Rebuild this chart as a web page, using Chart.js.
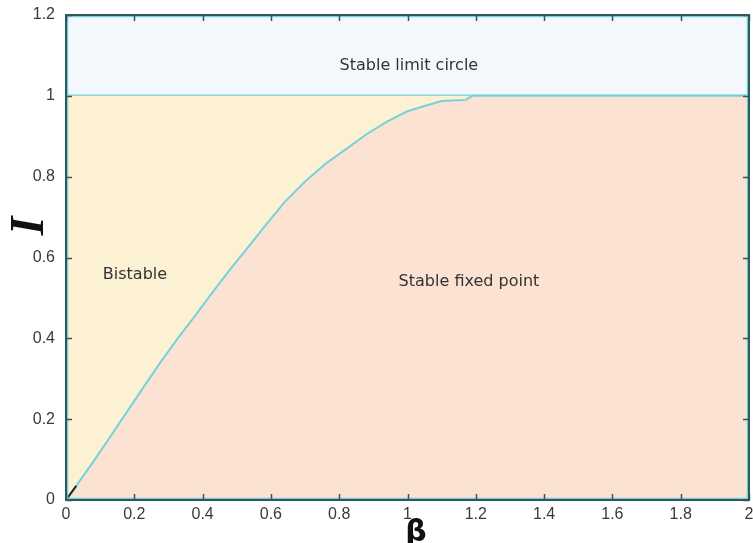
<!DOCTYPE html>
<html>
<head>
<meta charset="utf-8">
<script src="https://cdn.jsdelivr.net/npm/chart.js@4/dist/chart.umd.min.js"></script>
<style>
html,body{margin:0;padding:0;background:#fff;}
#wrap{width:753px;height:543px;}
</style>
</head>
<body>
<div id="wrap"><canvas id="c" width="753" height="543"></canvas></div>
<script>
// ---- data ----
const boundaryBeta = [0, 0.03, 0.08, 0.13, 0.18, 0.23, 0.28, 0.33, 0.38, 0.43, 0.48, 0.53, 0.58, 0.64, 0.70, 0.76, 0.82, 0.88, 0.94, 1.00, 1.05, 1.10, 1.17, 1.19, 2.0];
const boundaryI    = [0, 0.035, 0.095, 0.157, 0.22, 0.283, 0.345, 0.403, 0.458, 0.515, 0.57, 0.622, 0.675, 0.737, 0.788, 0.832, 0.868, 0.905, 0.936, 0.962, 0.975, 0.987, 0.99, 1.0, 1.0];
const startBeta = [0, 0.03];
const startI    = [0, 0.035];
const limitBeta = [0, 2];
const limitI    = [1, 1];
const xTickValues = [0, 0.2, 0.4, 0.6, 0.8, 1, 1.2, 1.4, 1.6, 1.8, 2];
const xTickLabels = ["0", "0.2", "0.4", "0.6", "0.8", "1", "1.2", "1.4", "1.6", "1.8", "2"];
const yTickValues = [0, 0.2, 0.4, 0.6, 0.8, 1, 1.2];
const yTickLabels = ["0", "0.2", "0.4", "0.6", "0.8", "1", "1.2"];
const regionNames = ["Stable limit circle", "Bistable", "Stable fixed point"];
const regionBeta  = [1.004, 0.202, 1.18];
const regionI     = [1.074, 0.557, 0.54];
const xTitle = "β";
const yTitle = "I";

const pts = (xs, ys) => xs.map((x, i) => ({x: x, y: ys[i]}));

const FRAME = '#2e5a5e';
const CYAN = '#74d2d8';

const decor = {
  id: 'decor',
  afterDraw(chart) {
    const ctx = chart.ctx;
    const xs = chart.scales.x, ys = chart.scales.y;
    const a = chart.chartArea;
    ctx.save();
    ctx.strokeStyle = CYAN; ctx.lineWidth = 1.5;
    ctx.strokeRect(a.left + 1.5, a.top + 1.5, a.right - a.left - 3, a.bottom - a.top - 3);
    ctx.strokeStyle = FRAME; ctx.lineWidth = 2;
    ctx.strokeRect(a.left, a.top, a.right - a.left, a.bottom - a.top);
    ctx.lineWidth = 1.5;
    xTickValues.forEach(v => {
      const px = Math.round(xs.getPixelForValue(v)) + 0.5;
      ctx.beginPath(); ctx.moveTo(px, a.bottom); ctx.lineTo(px, a.bottom - 6); ctx.stroke();
      ctx.beginPath(); ctx.moveTo(px, a.top); ctx.lineTo(px, a.top + 6); ctx.stroke();
    });
    yTickValues.forEach(v => {
      const py = Math.round(ys.getPixelForValue(v)) + 0.5;
      ctx.beginPath(); ctx.moveTo(a.left, py); ctx.lineTo(a.left + 6, py); ctx.stroke();
      ctx.beginPath(); ctx.moveTo(a.right, py); ctx.lineTo(a.right - 6, py); ctx.stroke();
    });
    ctx.fillStyle = '#333';
    ctx.font = '16px "DejaVu Sans"';
    ctx.textAlign = 'center'; ctx.textBaseline = 'middle';
    regionNames.forEach((t, i) => {
      ctx.fillText(t, xs.getPixelForValue(regionBeta[i]), ys.getPixelForValue(regionI[i]));
    });
    ctx.fillStyle = '#111';
    ctx.font = '600 30px "DejaVu Sans"';
    ctx.textAlign = 'center'; ctx.textBaseline = 'top';
    ctx.fillText(xTitle, 416, 518);
    ctx.save();
    ctx.translate(31, 226);
    ctx.rotate(-Math.PI / 2);
    ctx.font = 'bold italic 48px "Liberation Serif"';
    ctx.textAlign = 'center'; ctx.textBaseline = 'middle';
    ctx.fillText(yTitle, 0, 0);
    ctx.restore();
    ctx.restore();
  }
};

new Chart(document.getElementById('c'), {
  type: 'scatter',
  data: {
    datasets: [
      { data: pts(startBeta, startI), showLine: true, borderColor: '#1a2a2a', borderWidth: 2, pointRadius: 0, fill: false },
      { data: pts(boundaryBeta, boundaryI), showLine: true, borderColor: CYAN, borderWidth: 2, pointRadius: 0, tension: 0,
        fill: 'origin', backgroundColor: '#fce2d2' },
      { data: pts(limitBeta, limitI), showLine: true, borderWidth: 0, borderColor: 'rgba(0,0,0,0)', pointRadius: 0,
        fill: 'origin', backgroundColor: '#fcf2d3' },
      { data: pts(limitBeta, limitI), showLine: true, borderColor: CYAN, borderWidth: 2.5, pointRadius: 0,
        fill: 'end', backgroundColor: '#f4f8fc' }
    ]
  },
  options: {
    responsive: false,
    animation: false,
    events: [],
    layout: { padding: { top: 15, right: 4, left: 0, bottom: 0 } },
    plugins: { legend: { display: false }, tooltip: { enabled: false } },
    scales: {
      x: {
        type: 'linear', min: 0, max: 2,
        grid: { display: false, drawTicks: false },
        border: { display: false },
        afterBuildTicks: s => { s.ticks = xTickValues.map(v => ({value: v})); },
        afterFit: s => { s.height = 43; s.paddingLeft = 0; s.paddingRight = 0; },
        ticks: { padding: 5, color: '#3a3a3a', font: { family: '"Liberation Sans"', size: 16 },
                 callback: (v) => xTickLabels[xTickValues.indexOf(v)] ?? '' , maxRotation: 0, autoSkip: false }
      },
      y: {
        type: 'linear', min: 0, max: 1.2,
        grid: { display: false, drawTicks: false },
        border: { display: false },
        afterBuildTicks: s => { s.ticks = yTickValues.map(v => ({value: v})); },
        afterFit: s => { s.width = 66; s.paddingTop = 0; s.paddingBottom = 0; },
        ticks: { padding: 11, color: '#3a3a3a', font: { family: '"Liberation Sans"', size: 16 },
                 callback: (v) => yTickLabels[yTickValues.indexOf(v)] ?? '', autoSkip: false }
      }
    }
  },
  plugins: [decor]
});
</script>
</body>
</html>
